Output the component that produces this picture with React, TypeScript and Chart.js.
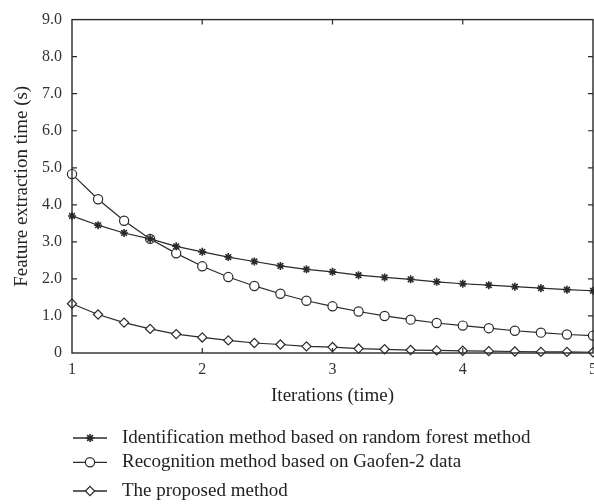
import React, { useEffect, useRef } from "react";
import { Chart, registerables } from "chart.js";

Chart.register(...registerables);

const iterations = [1, 1.2, 1.4, 1.6, 1.8, 2, 2.2, 2.4, 2.6, 2.8, 3, 3.2, 3.4, 3.6, 3.8, 4, 4.2, 4.4, 4.6, 4.8, 5];
const randomForest = [3.7, 3.45, 3.24, 3.08, 2.88, 2.73, 2.59, 2.47, 2.35, 2.26, 2.19, 2.1, 2.04, 1.99, 1.92, 1.87, 1.83, 1.79, 1.75, 1.71, 1.68];
const gaofen = [4.83, 4.15, 3.57, 3.08, 2.69, 2.34, 2.05, 1.81, 1.6, 1.41, 1.26, 1.12, 1.0, 0.9, 0.81, 0.74, 0.67, 0.6, 0.55, 0.5, 0.47];
const proposed = [1.33, 1.04, 0.82, 0.65, 0.51, 0.42, 0.34, 0.27, 0.23, 0.18, 0.16, 0.12, 0.1, 0.08, 0.07, 0.06, 0.05, 0.04, 0.03, 0.03, 0.02];
const seriesLabels = [
  "Identification method based on random forest method",
  "Recognition method based on Gaofen-2 data",
  "The proposed method",
];
const xTitle = "Iterations (time)";
const yTitle = "Feature extraction time (s)";

const FONT = "'Liberation Serif', 'DejaVu Serif', serif";
const INK = "#2a2a2a";

const toPoints = (ys: number[]) => iterations.map((x, i) => ({ x, y: ys[i] }));

function drawMarker(ctx: CanvasRenderingContext2D, style: string, x: number, y: number, r: number) {
  ctx.beginPath();
  if (style === "circle") {
    ctx.arc(x, y, r, 0, Math.PI * 2);
    ctx.fill();
    ctx.stroke();
  } else if (style === "rectRot") {
    ctx.moveTo(x - r, y);
    ctx.lineTo(x, y - r);
    ctx.lineTo(x + r, y);
    ctx.lineTo(x, y + r);
    ctx.closePath();
    ctx.fill();
    ctx.stroke();
  } else {
    for (let k = 0; k < 4; k++) {
      const a = (k * Math.PI) / 4;
      ctx.moveTo(x - Math.cos(a) * r, y - Math.sin(a) * r);
      ctx.lineTo(x + Math.cos(a) * r, y + Math.sin(a) * r);
    }
    ctx.stroke();
  }
}

const framePlugin = {
  id: "frame",
  afterDatasetsDraw(chart: any) {
    const { ctx, chartArea } = chart;
    const { left, right, top, bottom } = chartArea;
    const xs = chart.scales.x;
    const ys = chart.scales.y;
    ctx.save();
    ctx.strokeStyle = INK;
    ctx.lineWidth = 1.4;
    ctx.strokeRect(left, top, right - left, bottom - top);
    ctx.lineWidth = 1.2;
    const tl = 5;
    ctx.beginPath();
    ys.ticks.forEach((t: any) => {
      const y = ys.getPixelForValue(t.value);
      if (t.value <= ys.min || t.value >= ys.max) return;
      ctx.moveTo(left, y);
      ctx.lineTo(left + tl, y);
      ctx.moveTo(right, y);
      ctx.lineTo(right - tl, y);
    });
    xs.ticks.forEach((t: any) => {
      const x = xs.getPixelForValue(t.value);
      if (t.value <= xs.min || t.value >= xs.max) return;
      ctx.moveTo(x, bottom);
      ctx.lineTo(x, bottom - tl);
      ctx.moveTo(x, top);
      ctx.lineTo(x, top + tl);
    });
    ctx.stroke();
    ctx.restore();
  },
  afterDraw(chart: any) {
    const { ctx } = chart;
    const rows = [438, 462.3, 491];
    ctx.save();
    chart.data.datasets.forEach((ds: any, i: number) => {
      const y = rows[i];
      ctx.strokeStyle = INK;
      ctx.lineWidth = 1.3;
      ctx.beginPath();
      ctx.moveTo(73, y);
      ctx.lineTo(107, y);
      ctx.stroke();
      ctx.fillStyle = ds.pointBackgroundColor;
      ctx.strokeStyle = ds.pointBorderColor;
      ctx.lineWidth = ds.pointBorderWidth;
      drawMarker(ctx, ds.pointStyle, 90, y, ds.pointRadius);
      ctx.fillStyle = "#222";
      ctx.font = `19px ${FONT}`;
      ctx.textBaseline = "middle";
      ctx.textAlign = "left";
      ctx.fillText(ds.label, 122, y);
    });
    ctx.restore();
  },
};

export default function App() {
  const ref = useRef<HTMLCanvasElement | null>(null);
  useEffect(() => {
    if (!ref.current) return;
    const common = {
      borderColor: INK,
      borderWidth: 1.2,
      pointBorderColor: INK,
      showLine: true,
      tension: 0,
      clip: false as any,
    };
    const chart = new Chart(ref.current, {
      type: "scatter",
      data: {
        datasets: [
          {
            ...common,
            label: seriesLabels[0],
            data: toPoints(randomForest),
            pointStyle: "star",
            pointRadius: 4,
            pointBorderWidth: 1.6,
            pointBackgroundColor: INK,
          },
          {
            ...common,
            label: seriesLabels[1],
            data: toPoints(gaofen),
            pointStyle: "circle",
            pointRadius: 4.6,
            pointBorderWidth: 1.2,
            pointBackgroundColor: "#ffffff",
          },
          {
            ...common,
            label: seriesLabels[2],
            data: toPoints(proposed),
            pointStyle: "rectRot",
            pointRadius: 4.6,
            pointBorderWidth: 1.2,
            pointBackgroundColor: "#ffffff",
          },
        ],
      },
      options: {
        animation: false,
        responsive: false,
        layout: { autoPadding: false, padding: { left: 0, right: 1, top: 15, bottom: 97 } },
        plugins: { legend: { display: false }, tooltip: { enabled: false } },
        scales: {
          x: {
            type: "linear",
            min: 1,
            max: 5,
            grid: { display: false, drawTicks: false },
            border: { display: false },
            ticks: {
              stepSize: 1,
              padding: 7,
              color: "#333",
              font: { family: FONT, size: 16 },
              callback: (v: any) => String(v),
            },
            title: {
              display: true,
              text: xTitle,
              color: "#222",
              font: { family: FONT, size: 19 },
              padding: { top: 0, bottom: 0 },
            },
            afterFit: (s: any) => {
              s.height = 54;
              s.paddingLeft = 0;
              s.paddingRight = 0;
            },
          },
          y: {
            type: "linear",
            min: 0,
            max: 9,
            grid: { display: false, drawTicks: false },
            border: { display: false },
            ticks: {
              stepSize: 1,
              padding: 10,
              color: "#333",
              font: { family: FONT, size: 16 },
              callback: (v: any) => (v === 0 ? "0" : Number(v).toFixed(1)),
            },
            title: {
              display: true,
              text: yTitle,
              color: "#222",
              font: { family: FONT, size: 19 },
              padding: { top: 11, bottom: 0 },
            },
            afterFit: (s: any) => {
              s.width = 72;
            },
          },
        },
      },
      plugins: [framePlugin],
    });
    return () => chart.destroy();
  }, []);
  return (
    <div style={{ position: "absolute", left: 0, top: 0, width: 594, height: 504, background: "#fff" }}>
      <canvas ref={ref} width={594} height={504} />
    </div>
  );
}
